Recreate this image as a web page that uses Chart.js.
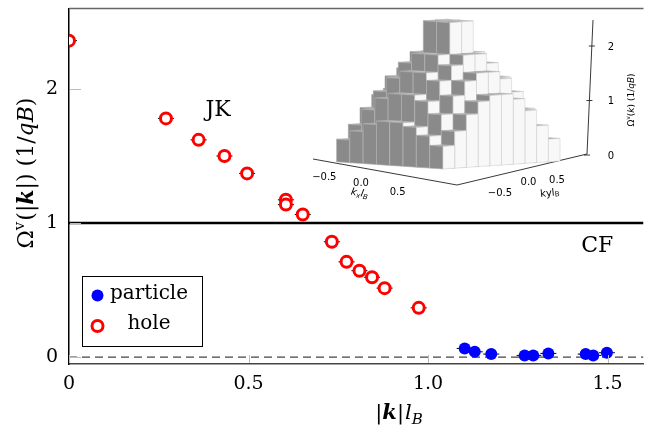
<!DOCTYPE html>
<html>
<head>
<meta charset="utf-8">
<script src="https://cdn.jsdelivr.net/npm/chart.js@4.4.1/dist/chart.umd.min.js"></script>
<style>
  html, body { margin: 0; padding: 0; background: #fff; overflow: hidden; }
  #wrap { position: relative; width: 652px; height: 429px; }
  #main { position: absolute; left: 0; top: 0; }
  #inset { position: absolute; left: 300px; top: 0; }
</style>
</head>
<body>
<div id="wrap">
  <canvas id="main" width="652" height="429"></canvas>
  <canvas id="inset" width="345" height="215"></canvas>
</div>
<script>
// Main panel data
const holeK = [0, 0.27, 0.361, 0.433, 0.496, 0.604, 0.604, 0.651, 0.732, 0.773, 0.809, 0.844, 0.879, 0.974];
const holeOmega = [2.36, 1.78, 1.62, 1.50, 1.37, 1.173, 1.137, 1.063, 0.86, 0.71, 0.644, 0.595, 0.514, 0.367];
const particleK = [1.102, 1.130, 1.176, 1.269, 1.293, 1.335, 1.439, 1.460, 1.498];
const particleOmega = [0.064, 0.039, 0.022, 0.012, 0.012, 0.027, 0.022, 0.012, 0.032];
const xTicks = [0, 0.5, 1, 1.5];
const yTicks = [0, 1, 2];

// Inset: 3D histogram of the curvature, rows along ky, columns along kx
const insetHeights = [
  [0.37, 0.52, 0.65, 0.71, 0.71, 0.65, 0.52, 0.37],
  [0.60, 0.86, 1.06, 1.15, 1.15, 1.06, 0.86, 0.60],
  [0.86, 1.15, 1.38, 1.50, 1.50, 1.38, 1.15, 0.86],
  [1.06, 1.38, 1.62, 1.78, 1.78, 1.62, 1.38, 1.06],
  [1.15, 1.50, 1.78, 2.30, 2.30, 1.78, 1.50, 1.15],
  [1.15, 1.50, 1.78, 2.30, 2.30, 1.78, 1.50, 1.15],
  [1.06, 1.38, 1.62, 1.78, 1.78, 1.62, 1.38, 1.06],
  [0.86, 1.15, 1.38, 1.50, 1.50, 1.38, 1.15, 0.86],
  [0.60, 0.86, 1.06, 1.15, 1.15, 1.06, 0.86, 0.60],
  [0.37, 0.52, 0.65, 0.71, 0.71, 0.65, 0.52, 0.37]
];
const insetKTicks = [-0.5, 0, 0.5];
const insetZTicks = [0, 1, 2];

const serif = 'DejaVu Serif';
const sans = 'DejaVu Sans';

// Draw a line of text built from pieces with different fonts, centred on x
function drawRich(ctx, parts, x, y, angle) {
  ctx.save();
  ctx.translate(x, y);
  ctx.rotate(angle || 0);
  ctx.textBaseline = 'alphabetic';
  ctx.textAlign = 'left';
  ctx.fillStyle = '#000';
  let total = 0;
  parts.forEach(p => { ctx.font = p.font; total += ctx.measureText(p.text).width + (p.gap || 0); });
  let cx = -total / 2;
  parts.forEach(p => {
    ctx.font = p.font;
    ctx.fillText(p.text, cx, p.dy || 0);
    cx += ctx.measureText(p.text).width + (p.gap || 0);
  });
  ctx.restore();
}

// Error bars, reference lines at 0 and 1, frame, labels, legend
const refLines = {
  id: 'refLines',
  beforeDatasetsDraw(chart) {
    const { ctx, chartArea: a, scales: { y } } = chart;
    ctx.save();
    ctx.beginPath();
    ctx.rect(a.left, a.top, a.right - a.left, a.bottom - a.top);
    ctx.clip();
    // dashed zero line
    ctx.strokeStyle = '#444';
    ctx.lineWidth = 1.2;
    ctx.setLineDash([8, 5]);
    ctx.beginPath();
    ctx.moveTo(a.left, y.getPixelForValue(0));
    ctx.lineTo(a.right, y.getPixelForValue(0));
    ctx.stroke();
    ctx.setLineDash([]);
    // solid line at 1
    ctx.strokeStyle = '#000';
    ctx.lineWidth = 2.5;
    ctx.beginPath();
    ctx.moveTo(a.left, y.getPixelForValue(1));
    ctx.lineTo(a.right, y.getPixelForValue(1));
    ctx.stroke();
    // tiny horizontal error bars
    ctx.strokeStyle = '#000';
    ctx.lineWidth = 1;
    chart.data.datasets.forEach((ds, i) => {
      chart.getDatasetMeta(i).data.forEach(pt => {
        ctx.beginPath();
        ctx.moveTo(pt.x - 8, pt.y);
        ctx.lineTo(pt.x + 8, pt.y);
        ctx.stroke();
      });
    });
    ctx.restore();
  },
  afterDraw(chart) {
    const { ctx, chartArea: a, scales: { x, y } } = chart;
    ctx.save();
    // top frame line
    ctx.strokeStyle = '#666';
    ctx.lineWidth = 1.5;
    ctx.beginPath();
    ctx.moveTo(a.left, a.top);
    ctx.lineTo(a.right, a.top);
    ctx.stroke();
    // inward tick marks
    ctx.strokeStyle = '#bbb';
    ctx.lineWidth = 1;
    yTicks.forEach(v => {
      const py = Math.round(y.getPixelForValue(v)) + 0.5;
      ctx.beginPath();
      ctx.moveTo(a.left + 1, py);
      ctx.lineTo(a.left + 12, py);
      ctx.stroke();
    });
    xTicks.forEach(v => {
      const px = Math.round(x.getPixelForValue(v)) + 0.5;
      ctx.beginPath();
      ctx.moveTo(px, a.bottom - 1);
      ctx.lineTo(px, a.bottom - 9);
      ctx.stroke();
    });

    // region labels
    ctx.fillStyle = '#000';
    ctx.font = '22px ' + serif;
    ctx.textAlign = 'center';
    ctx.textBaseline = 'middle';
    ctx.fillText('JK', x.getPixelForValue(0.415), y.getPixelForValue(1.84));
    ctx.fillText('CF', x.getPixelForValue(1.471), y.getPixelForValue(0.825));

    // legend
    ctx.strokeStyle = '#000';
    ctx.lineWidth = 1;
    ctx.strokeRect(82.5, 276.5, 120, 70);
    const dsP = chart.data.datasets[0], dsH = chart.data.datasets[1];
    ctx.fillStyle = dsP.pointBackgroundColor;
    ctx.beginPath();
    ctx.arc(97.5, 295.5, dsP.pointRadius, 0, Math.PI * 2);
    ctx.fill();
    ctx.fillStyle = dsH.pointBackgroundColor;
    ctx.strokeStyle = dsH.pointBorderColor;
    ctx.lineWidth = dsH.pointBorderWidth;
    ctx.beginPath();
    ctx.arc(97.5, 326, dsH.pointRadius, 0, Math.PI * 2);
    ctx.fill();
    ctx.stroke();
    ctx.fillStyle = '#000';
    ctx.font = '20px ' + serif;
    ctx.textAlign = 'center';
    ctx.textBaseline = 'middle';
    ctx.fillText(dsP.label, 149, 294);
    ctx.fillText(dsH.label, 149, 324);

    // axis titles
    const f = 21;
    drawRich(ctx, [
      { text: '|', font: f + 'px ' + serif },
      { text: 'k', font: 'italic bold ' + f + 'px ' + serif },
      { text: '|', font: f + 'px ' + serif, gap: 1 },
      { text: 'l', font: 'italic ' + f + 'px ' + serif },
      { text: 'B', font: 'italic 15px ' + serif, dy: 5 }
    ], 399, 419, 0);
    drawRich(ctx, [
      { text: 'Ω', font: '22px ' + serif },
      { text: 'v', font: '15px ' + serif, dy: -9, gap: 1 },
      { text: '(|', font: '22px ' + serif },
      { text: 'k', font: 'italic bold 22px ' + serif },
      { text: '|)', font: '22px ' + serif, gap: 7 },
      { text: '(1/', font: '22px ' + serif },
      { text: 'qB', font: 'italic 22px ' + serif },
      { text: ')', font: '22px ' + serif }
    ], 33, 173, -Math.PI / 2);
    ctx.restore();
  }
};

new Chart(document.getElementById('main'), {
  type: 'scatter',
  data: {
    datasets: [
      {
        label: 'particle',
        data: particleK.map((k, i) => ({ x: k, y: particleOmega[i] })),
        pointRadius: 6,
        pointBackgroundColor: '#0000ff',
        pointBorderColor: '#0000ff',
        pointBorderWidth: 0
      },
      {
        label: 'hole',
        data: holeK.map((k, i) => ({ x: k, y: holeOmega[i] })),
        pointRadius: 5.5,
        pointBackgroundColor: '#ffffff',
        pointBorderColor: '#ff0000',
        pointBorderWidth: 3
      }
    ]
  },
  options: {
    responsive: false,
    animation: false,
    events: [],
    layout: { padding: { top: 5, right: 2, left: 0, bottom: 0 } },
    plugins: { legend: { display: false }, tooltip: { enabled: false } },
    scales: {
      x: {
        type: 'linear',
        min: 0,
        max: 1.6,
        afterFit: s => { s.height = 65; s.paddingLeft = 0; s.paddingRight = 0; },
        afterBuildTicks: s => { s.ticks = xTicks.map(v => ({ value: v })); },
        grid: { drawOnChartArea: false, drawTicks: false },
        border: { color: '#444', width: 1.5 },
        ticks: { font: { family: serif, size: 19 }, color: '#000', padding: 9, maxRotation: 0 }
      },
      y: {
        type: 'linear',
        min: -0.052,
        max: 2.6,
        afterFit: s => { s.width = 69; s.paddingTop = 0; s.paddingBottom = 0; },
        afterBuildTicks: s => { s.ticks = yTicks.map(v => ({ value: v })); },
        grid: { drawOnChartArea: false, drawTicks: false },
        border: { color: '#000', width: 1.5 },
        ticks: { font: { family: serif, size: 19 }, color: '#000', padding: 11 }
      }
    }
  },
  plugins: [refLines]
});

// Inset: oblique projection of the bar grid, heights through the inset y scale
const bars3d = {
  id: 'bars3d',
  afterDraw(chart) {
    const { ctx, scales: { y } } = chart;
    const zUnit = (y.getPixelForValue(0) - y.getPixelForValue(1)) * 1.12;
    const front = { x: 143, y: 169 };
    const ea = { x: -13.3, y: -0.9 };  // one cell toward the left corner
    const eb = { x: 11.7, y: -0.8 };   // one cell toward the right corner
    const P = (a, b, h) => [front.x + a * ea.x + b * eb.x, front.y + a * ea.y + b * eb.y - h * zUnit];
    const poly = (pts, fill, stroke) => {
      ctx.beginPath();
      pts.forEach((p, i) => (i ? ctx.lineTo(p[0], p[1]) : ctx.moveTo(p[0], p[1])));
      ctx.closePath();
      ctx.fillStyle = fill;
      ctx.fill();
      ctx.strokeStyle = stroke;
      ctx.lineWidth = 0.6;
      ctx.stroke();
    };
    ctx.save();

    // axes of the 3D box
    ctx.strokeStyle = '#222';
    ctx.lineWidth = 0.9;
    ctx.beginPath();
    ctx.moveTo(13, 159); ctx.lineTo(157, 185); ctx.lineTo(287, 154); ctx.lineTo(293, 20);
    ctx.stroke();

    const nb = insetHeights.length, na = insetHeights[0].length;
    for (let s = na + nb - 2; s >= 0; s--) {
      for (let a = na - 1; a >= 0; a--) {
        const b = s - a;
        if (b < 0 || b >= nb) continue;
        const h = insetHeights[b][a];
        poly([P(a, b, h), P(a + 1, b, h), P(a + 1, b + 1, h), P(a, b + 1, h)], '#a8a8a8', '#b8b8b8');
        poly([P(a, b, 0), P(a + 1, b, 0), P(a + 1, b, h), P(a, b, h)], '#8a8a8a', '#a9a9a9');
        poly([P(a, b, 0), P(a, b + 1, 0), P(a, b + 1, h), P(a, b, h)], '#f8f8f8', '#d2d2d2');
      }
    }

    // tick labels on the floor axes
    ctx.fillStyle = '#000';
    ctx.font = '10px ' + sans;
    ctx.textAlign = 'center';
    ctx.textBaseline = 'middle';
    const fmt = v => (v < 0 ? '\u2212' : '') + Math.abs(v).toFixed(1);
    insetKTicks.forEach(v => {
      const t = (v + 0.75) / 1.5;
      ctx.fillText(fmt(v), 6 + 110 * t, 174 + 22 * t - (v === 0 ? 2 : 0));
      ctx.fillText(fmt(v), 185.75 + 85.5 * t, 196.25 - 19.5 * t - (v === 0 ? 4 : 0));
    });
    drawRich(ctx, [
      { text: 'k', font: 'italic 10px ' + sans },
      { text: 'x', font: 'italic 7px ' + sans, dy: 2 },
      { text: 'l', font: 'italic 10px ' + sans },
      { text: 'B', font: 'italic 7px ' + sans, dy: 2 }
    ], 59, 196, 0.18);
    drawRich(ctx, [
      { text: 'k', font: '10px ' + sans },
      { text: 'y', font: '10px ' + sans },
      { text: 'l', font: '10px ' + sans },
      { text: 'B', font: '7px ' + sans, dy: 1 }
    ], 250, 196, -0.1);

    // vertical axis ticks and labels
    ctx.strokeStyle = '#222';
    ctx.lineWidth = 0.9;
    ctx.font = '10px ' + sans;
    insetZTicks.forEach(v => {
      const py = y.getPixelForValue(v);
      const ax = 287 + (154 - py) * 6 / 134;
      ctx.beginPath();
      ctx.moveTo(ax - 3, py);
      ctx.lineTo(ax + 3, py);
      ctx.stroke();
      ctx.fillText(String(v), 311, py + 1);
    });
    drawRich(ctx, [
      { text: 'Ω', font: '9px ' + sans },
      { text: 'v', font: '6px ' + sans, dy: -4 },
      { text: '(', font: '9px ' + sans },
      { text: 'k', font: 'italic 9px ' + sans },
      { text: ') (1/', font: '9px ' + sans },
      { text: 'qB', font: 'italic 9px ' + sans },
      { text: ')', font: '9px ' + sans }
    ], 334, 100, -Math.PI / 2);
    ctx.restore();
  }
};

new Chart(document.getElementById('inset'), {
  type: 'scatter',
  data: { datasets: [] },
  options: {
    responsive: false,
    animation: false,
    events: [],
    layout: { padding: 0 },
    plugins: { legend: { display: false }, tooltip: { enabled: false } },
    scales: {
      x: { display: false, min: -0.75, max: 0.75 },
      y: { display: false, min: -1.1, max: 2.844 }
    }
  },
  plugins: [bars3d]
});
</script>
</body>
</html>
